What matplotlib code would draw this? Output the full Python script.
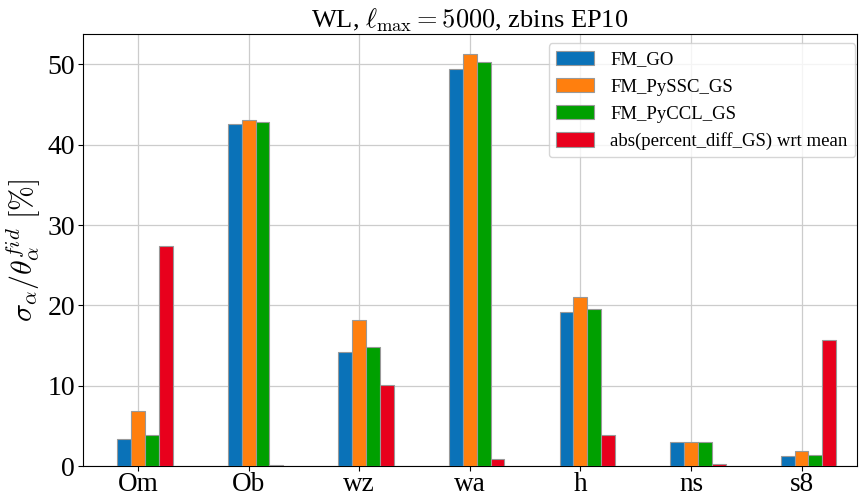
"""WL forecast: relative marginal errors for the three Fisher matrices."""

import matplotlib
matplotlib.use("Agg")
import matplotlib.pyplot as plt
import numpy as np

matplotlib.rcParams.update(
    {
        "font.family": ["Liberation Serif", "DejaVu Serif"],
        "mathtext.fontset": "cm",
        "font.size": 15,
    }
)

params = ["Om", "Ob", "wz", "wa", "h", "ns", "s8"]
fm_go = [3.37, 42.55, 14.15, 49.4, 19.2, 2.98, 1.28]
fm_pyssc_gs = [6.86, 43.05, 18.25, 51.25, 21.1, 3.05, 1.9]
fm_pyccl_gs = [3.85, 42.9, 14.8, 50.25, 19.55, 2.98, 1.4]
perc_diff = [27.45, 0.1, 10.1, 0.9, 3.85, 0.25, 15.75]

series = [
    ("FM_GO", fm_go, "#0a72b8"),
    ("FM_PySSC_GS", fm_pyssc_gs, "#ff7f0e"),
    ("FM_PyCCL_GS", fm_pyccl_gs, "#00a000"),
    ("abs(percent_diff_GS) wrt mean", perc_diff, "#e8001c"),
]

fig = plt.figure(figsize=(8.62, 4.98), dpi=100)
ax = fig.add_axes([0.096, 0.064, 0.898, 0.868])

x = np.arange(len(params))
width = 0.125
for i, (label, vals, color) in enumerate(series):
    # pandas-style placement: second bar sits on the tick
    offset = (i - 1) * width
    ax.bar(x + offset, vals, width, color=color, edgecolor="#999999",
           linewidth=0.8, label=label, zorder=3)

ax.set_xlim(-0.5, len(params) - 0.5)
ax.set_xticks(x)
ax.set_xticklabels(params, fontsize=19.5)
ax.tick_params(axis="y", labelsize=20, pad=2)
ax.tick_params(axis="x", pad=1)
ax.grid(True, color="#cccccc", linewidth=0.9, zorder=0)
ax.set_axisbelow(True)

ax.set_ylabel(r"$\sigma_\alpha/ \theta^{fid}_\alpha \ [\%]$", fontsize=21.5, labelpad=3)
ax.set_title(r"WL, $\ell_{\rm max} = 5000$, zbins EP10", fontsize=19, pad=4)
ax.legend(loc="upper right", bbox_to_anchor=(0.998, 0.978), fontsize=13.5,
          framealpha=0.8, handlelength=2.0, handleheight=0.8, handletextpad=0.9,
          labelspacing=0.5, borderaxespad=0)

fig.savefig("out.png", dpi=100)
